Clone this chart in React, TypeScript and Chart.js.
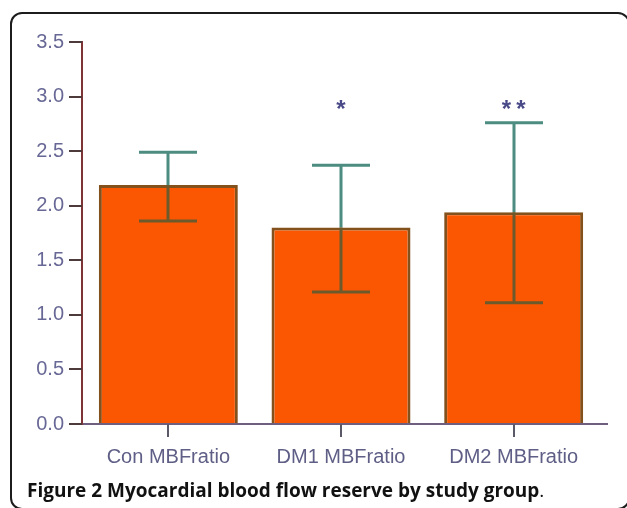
import React, { useEffect, useRef } from "react";
import { Chart, registerables } from "chart.js";

Chart.register(...registerables);

const categories = ["Con MBFratio", "DM1 MBFratio", "DM2 MBFratio"];
const means = [2.19, 1.8, 1.94];
const errUpper = [2.49, 2.37, 2.76];
const errLower = [1.86, 1.21, 1.11];
const significance = ["", "*", "**"];
const significanceLevel = 2.94;
const yTicks = [0, 0.5, 1, 1.5, 2, 2.5, 3, 3.5];

const LABEL_FONT = "'Liberation Sans', Arial, sans-serif";

const overlayPlugin = {
  id: "overlay",
  afterDatasetsDraw(chart: any) {
    const ctx = chart.ctx;
    const xs = chart.scales.x;
    const ys = chart.scales.y;
    const area = chart.chartArea;
    const meta = chart.getDatasetMeta(0);
    ctx.save();
    ctx.lineCap = "butt";
    // error bars
    meta.data.forEach((bar: any, i: number) => {
      const cx = Math.round(bar.x);
      const yTop = ys.getPixelForValue(errUpper[i]);
      const yBot = ys.getPixelForValue(errLower[i]);
      const yMean = ys.getPixelForValue(means[i]);
      const half = 29;
      ctx.lineWidth = 3;
      ctx.strokeStyle = "#4d8c80";
      ctx.beginPath();
      ctx.moveTo(cx, yTop);
      ctx.lineTo(cx, yMean);
      ctx.moveTo(cx - half, yTop);
      ctx.lineTo(cx + half, yTop);
      ctx.stroke();
      ctx.strokeStyle = "#6c5a2c";
      ctx.beginPath();
      ctx.moveTo(cx, yMean);
      ctx.lineTo(cx, yBot);
      ctx.moveTo(cx - half, yBot);
      ctx.lineTo(cx + half, yBot);
      ctx.stroke();
    });
    const x0 = area.left;
    const yb = ys.getPixelForValue(0);
    // x axis
    ctx.lineWidth = 2;
    ctx.strokeStyle = "#6e5f80";
    ctx.beginPath();
    ctx.moveTo(x0, yb);
    ctx.lineTo(area.right + 8, yb);
    ctx.stroke();
    ctx.strokeStyle = "#5b5868";
    ctx.beginPath();
    categories.forEach((_, i) => {
      const px = Math.round(xs.getPixelForValue(i));
      ctx.moveTo(px, yb);
      ctx.lineTo(px, yb + 13);
    });
    ctx.stroke();
    // y axis
    ctx.strokeStyle = "#7e3434";
    ctx.beginPath();
    ctx.moveTo(x0, ys.getPixelForValue(yTicks[yTicks.length - 1]) - 1);
    ctx.lineTo(x0, yb + 1);
    ctx.stroke();
    ctx.strokeStyle = "#4d3b3b";
    ctx.beginPath();
    yTicks.forEach((v) => {
      const py = Math.round(ys.getPixelForValue(v));
      ctx.moveTo(x0 - 13, py);
      ctx.lineTo(x0, py);
    });
    ctx.stroke();
    // significance marks
    ctx.fillStyle = "#4a4a88";
    ctx.font = "bold 24px " + LABEL_FONT;
    ctx.textAlign = "center";
    ctx.textBaseline = "alphabetic";
    (ctx as any).letterSpacing = "5px";
    significance.forEach((s, i) => {
      if (!s) return;
      const px = xs.getPixelForValue(i);
      const py = ys.getPixelForValue(significanceLevel);
      ctx.fillText(s, px + 2.5, py + 14);
    });
    ctx.restore();
  },
};

export default function App() {
  const ref = useRef<HTMLCanvasElement | null>(null);
  useEffect(() => {
    if (!ref.current) return;
    const chart = new Chart(ref.current, {
      type: "bar",
      data: {
        labels: categories,
        datasets: [
          {
            data: means,
            backgroundColor: "#fb5702",
            borderColor: "#82511c",
            borderWidth: 3,
            categoryPercentage: 1,
            barPercentage: 0.805,
          },
        ],
      },
      options: {
        animation: false,
        responsive: false,
        maintainAspectRatio: false,
        layout: { padding: { left: 0, top: 42, right: 27, bottom: 0 } },
        plugins: { legend: { display: false }, tooltip: { enabled: false } },
        scales: {
          x: {
            grid: { display: false, drawTicks: false },
            border: { display: false },
            ticks: {
              color: "#5e5e86",
              font: { family: LABEL_FONT, size: 20 },
              padding: 21,
              maxRotation: 0,
              autoSkip: false,
            },
            afterFit(s: any) {
              s.height = 84;
              s.paddingLeft = 0;
              s.paddingRight = 0;
            },
          },
          y: {
            min: 0,
            max: 3.5,
            afterBuildTicks(s: any) {
              s.ticks = yTicks.map((v) => ({ value: v }));
            },
            grid: { display: false, drawTicks: false },
            border: { display: false },
            ticks: {
              color: "#686896",
              font: { family: LABEL_FONT, size: 20 },
              padding: 18,
              callback: (v: any) => Number(v).toFixed(1),
            },
            afterFit(s: any) {
              s.width = 82;
              s.paddingTop = 0;
              s.paddingBottom = 0;
            },
          },
        },
      },
      plugins: [overlayPlugin],
    });
    return () => chart.destroy();
  }, []);

  return (
    <div
      style={{
        position: "fixed",
        left: 0,
        top: 0,
        width: 627,
        height: 508,
        background: "#ffffff",
        overflow: "hidden",
      }}
    >
      <div
        style={{
          position: "absolute",
          left: 10,
          top: 12,
          width: 620,
          height: 498,
          boxSizing: "border-box",
          border: "2px solid #1c1c1c",
          borderRadius: 12,
        }}
      />
      <canvas
        ref={ref}
        width={627}
        height={508}
        style={{ position: "absolute", left: 0, top: 0, width: 627, height: 508 }}
      />
      <div
        style={{
          position: "absolute",
          left: 27,
          top: 477,
          fontFamily: "'Open Sans', sans-serif",
          fontSize: 19,
          lineHeight: "26px",
          color: "#111111",
          whiteSpace: "nowrap",
        }}
      >
        <b>Figure 2 Myocardial blood flow reserve by study group</b>.
      </div>
    </div>
  );
}
